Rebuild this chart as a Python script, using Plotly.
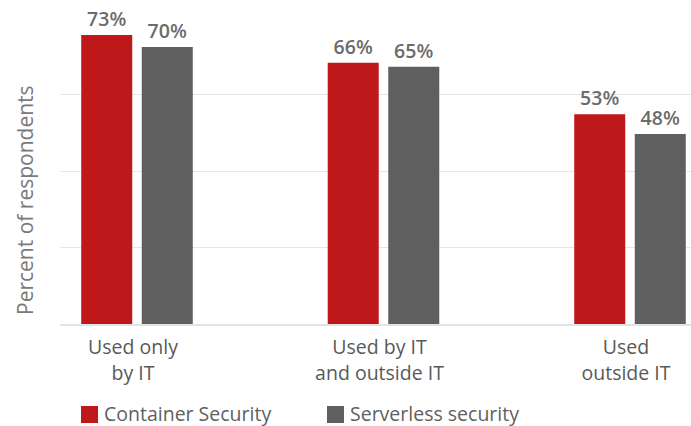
import plotly.graph_objects as go

# Survey results: where security tooling is used
categories = ["Used only<br>by IT", "Used by IT<br>and outside IT", "Used<br>outside IT"]
series_names = ["Container Security", "Serverless security"]
container_values = [73, 66, 53]
serverless_values = [70, 65, 48]
grid_values = [0, 19.3, 38.6, 57.9, 77.2]

RED = "#bf181a"
GRAY = "#5f5f5f"
FONT = "Open Sans"

W, H = 691, 426
M_L, M_R, M_T, M_B = 60, 0, 18, 102
plot_w = W - M_L - M_R
plot_h = H - M_T - M_B
cat_px = 246.5  # pixel width of one category band


def paper_y(px):
    """Convert a pixel row (from the top of the page) to paper y."""
    return (M_T + plot_h - px) / plot_h


fig = go.Figure()
for name, vals, color in [(series_names[0], container_values, RED),
                          (series_names[1], serverless_values, GRAY)]:
    fig.add_trace(go.Bar(
        x=categories, y=vals, name=name,
        marker=dict(color=color, line=dict(width=0)),
        text=[f"{v}%" for v in vals],
        textposition="outside",
        textfont=dict(family=FONT, size=19.5, color="#6b6b6b", weight=600),
        cliponaxis=False,
        showlegend=False,
    ))

fig.update_layout(
    width=W, height=H,
    margin=dict(l=M_L, r=M_R, t=M_T, b=M_B),
    paper_bgcolor="white", plot_bgcolor="white",
    barmode="group", bargap=0.509, bargroupgap=0.157,
    font=dict(family=FONT, size=19.5, color="#595959"),
    xaxis=dict(
        type="category",
        range=[-77 / cat_px, -77 / cat_px + plot_w / cat_px],
        showgrid=False, zeroline=False,
        showline=True, linecolor="#e4e4e4", linewidth=2,
        ticks="", ticklabelstandoff=5, ticklabelshift=-4,
        tickfont=dict(family=FONT, size=19.5, color="#595959"),
    ),
    yaxis=dict(
        range=[0, 77.3],
        tickvals=grid_values, showticklabels=False,
        showgrid=True, gridcolor="#e6e6e6", gridwidth=1,
        zeroline=False, showline=False, ticks="",
    ),
)

# Rotated axis title
fig.add_annotation(
    text="Percent of respondents", textangle=-90,
    xref="paper", yref="paper",
    x=(25 - M_L) / plot_w, y=paper_y(200),
    xanchor="center", yanchor="middle", showarrow=False,
    font=dict(family=FONT, size=21, color="#7a7a7a"),
)

# Legend: colour swatch followed by the series name
legend_items = [(series_names[0], RED, 81), (series_names[1], GRAY, 327)]
for name, color, left in legend_items:
    fig.add_shape(
        type="rect", xref="paper", yref="paper",
        x0=(left - M_L) / plot_w, x1=(left + 17 - M_L) / plot_w,
        y0=paper_y(423), y1=paper_y(406),
        fillcolor=color, line=dict(width=0),
    )
    fig.add_annotation(
        text=name, xref="paper", yref="paper",
        x=(left + 22 - M_L) / plot_w, y=paper_y(413),
        xanchor="left", yanchor="middle", showarrow=False,
        borderpad=0,
        font=dict(family=FONT, size=19.5, color="#5f5f5f"),
    )

fig.write_html("out.html")
